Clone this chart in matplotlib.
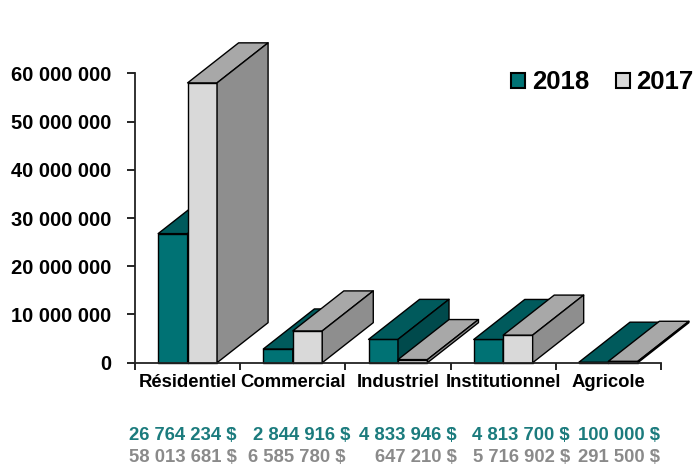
import matplotlib
matplotlib.use("Agg")
import matplotlib.pyplot as plt
from matplotlib.patches import Polygon, Patch
from matplotlib.ticker import FuncFormatter, MultipleLocator

categories = ["Résidentiel", "Commercial", "Industriel", "Institutionnel", "Agricole"]
values_2018 = [26764234, 2844916, 4833946, 4813700, 100000]
values_2017 = [58013681, 6585780, 647210, 5716902, 291500]
labels_2018 = ["26 764 234 $", "2 844 916 $", "4 833 946 $", "4 813 700 $", "100 000 $"]
labels_2017 = ["58 013 681 $", "6 585 780 $", "647 210 $", "5 716 902 $", "291 500 $"]
series_names = ["2018", "2017"]

plt.rcParams['font.family'] = ['Liberation Sans', 'DejaVu Sans']

W, H = 695, 470
fig = plt.figure(figsize=(W / 100, H / 100), dpi=100)
ax = fig.add_axes([135 / W, 107.3 / H, (661 - 135) / W, (396.7 - 107.3) / H])

colors = {
    "2018": ("#007274", "#005a5c", "#004a4c"),   # front, top, side
    "2017": ("#d9d9d9", "#a8a8a8", "#8e8e8e"),
}

bar_w = 0.28
depth_x = 0.485
depth_y = 8.3e6

def draw_bar(x0, x1, h, cols):
    front, top, side = cols
    kw = dict(edgecolor="black", linewidth=1.0, clip_on=False, joinstyle="round")
    ax.add_patch(Polygon([(x0, 0), (x1, 0), (x1, h), (x0, h)], closed=True, facecolor=front, **kw))
    ax.add_patch(Polygon([(x0, h), (x1, h), (x1 + depth_x, h + depth_y), (x0 + depth_x, h + depth_y)],
                         closed=True, facecolor=top, **kw))
    ax.add_patch(Polygon([(x1, 0), (x1 + depth_x, depth_y), (x1 + depth_x, h + depth_y), (x1, h)],
                         closed=True, facecolor=side, **kw))

for i in range(len(categories)):
    c = i + 0.5
    draw_bar(c - bar_w, c, values_2018[i], colors["2018"])
    draw_bar(c, c + bar_w, values_2017[i], colors["2017"])

ax.set_xlim(0, len(categories))
ax.set_ylim(0, 60e6)
for s in ["top", "right"]:
    ax.spines[s].set_visible(False)
for s in ["left", "bottom"]:
    ax.spines[s].set_color("#222222")
    ax.spines[s].set_linewidth(1.3)

ax.yaxis.set_major_locator(MultipleLocator(10e6))
ax.yaxis.set_major_formatter(FuncFormatter(lambda v, p: f"{int(v):,}".replace(",", " ")))
ax.tick_params(axis="y", length=6, width=1.2, pad=11, labelsize=14.5)
for t in ax.get_yticklabels():
    t.set_fontweight("bold")

ax.set_xticks(range(len(categories) + 1))
ax.set_xticklabels([])
ax.set_xticks([i + 0.5 for i in range(len(categories))], minor=True)
ax.set_xticklabels(categories, minor=True, fontsize=13.3, fontweight="bold")
ax.tick_params(axis="x", which="major", length=5, width=1.2)
ax.tick_params(axis="x", which="minor", length=0, pad=8)

# value labels below
right_2018 = [237, 350, 457, 570, 660]
right_2017 = [237, 346, 457, 570, 660]
for i in range(len(categories)):
    fig.text(right_2018[i] / W, 1 - 436 / H, labels_2018[i], ha="right", va="center",
             fontsize=13.3, fontweight="bold", color="#1b7b7d")
    fig.text(right_2017[i] / W, 1 - 458 / H, labels_2017[i], ha="right", va="center",
             fontsize=13.3, fontweight="bold", color="#8a8a8a")

handles = [Patch(facecolor=colors[n][0], edgecolor="black", linewidth=1.5, label=n) for n in series_names]
fig.legend(handles=handles, loc="upper right", bbox_to_anchor=(1.013, 0.872), ncol=2, frameon=False,
           prop={"size": 18.5, "weight": "bold"}, handlelength=0.55, handleheight=0.55,
           handletextpad=0.25, columnspacing=1.05, borderaxespad=0)

fig.savefig("out.png", dpi=100)
